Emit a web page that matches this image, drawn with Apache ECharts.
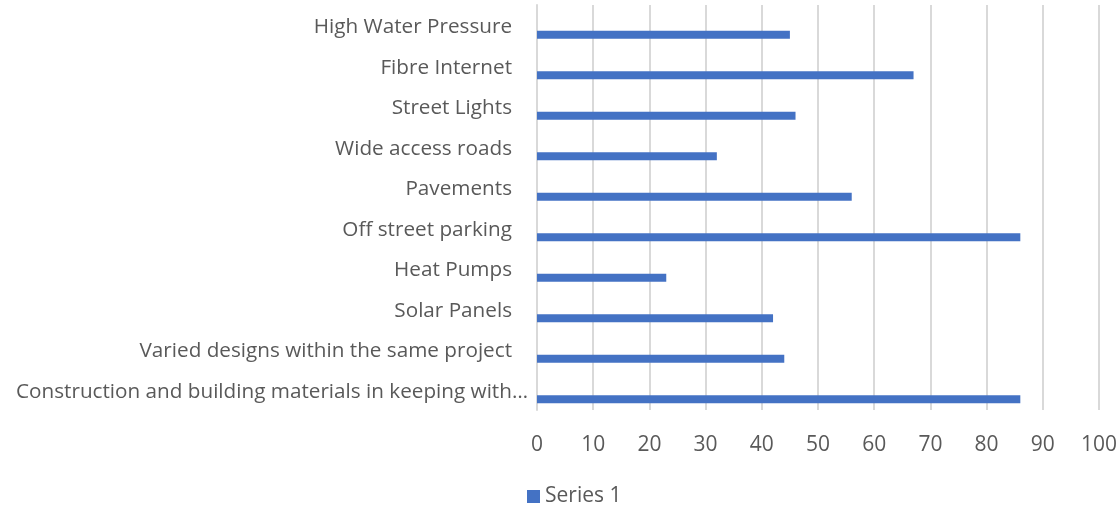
<!DOCTYPE html>
<html><head><meta charset="utf-8">
<script src="https://cdn.jsdelivr.net/npm/echarts@6/dist/echarts.min.js"></script>
<style>html,body{margin:0;padding:0;background:#fff}#c{width:1120px;height:507px}</style>
</head><body><div id="c"></div>
<script>
// categories listed bottom-to-top (Excel order)
const categories = [
  "Construction and building materials in keeping with…",
  "Varied designs within the same project",
  "Solar Panels",
  "Heat Pumps",
  "Off street parking",
  "Pavements",
  "Wide access roads",
  "Street Lights",
  "Fibre Internet",
  "High Water Pressure"
];
const series1 = [86, 44, 42, 23, 86, 56, 32, 46, 67, 45];
const seriesName = "Series 1";
const xTicks = { min: 0, max: 100, interval: 10 };

const chart = echarts.init(document.getElementById('c'), null, {renderer: 'canvas'});
const font = "'Open Sans', sans-serif";
chart.setOption({
  animation: false,
  grid: { left: 537, right: 21, top: 5, bottom: 97, containLabel: false, outerBoundsMode: 'none' },
  legend: {
    data: [seriesName], top: 481, left: 522,
    itemWidth: 13, itemHeight: 13, itemGap: 5,
    icon: 'rect',
    textStyle: { color: '#595959', fontSize: 21, fontFamily: font }
  },
  xAxis: {
    type: 'value', min: xTicks.min, max: xTicks.max, interval: xTicks.interval,
    axisLine: { show: false }, axisTick: { show: false },
    splitLine: { show: true, lineStyle: { color: '#d9d9d9', width: 2 } },
    axisLabel: { color: '#595959', fontSize: 21, fontFamily: font, margin: 25 }
  },
  yAxis: {
    type: 'category', data: categories,
    axisLine: { show: true, lineStyle: { color: '#d9d9d9', width: 2 } },
    axisTick: { show: false },
    axisLabel: {
      color: '#595959', fontSize: 20.7, fontFamily: font, margin: 25,
      padding: [4, 0, 0, 0],
      formatter: function (v) { return v.endsWith('…') ? '{e|' + v + '}' : v; },
      rich: { e: { color: '#595959', fontSize: 20.7, fontFamily: font, padding: [0, -16, 0, 0] } }
    }
  },
  series: [
    { name: '_hidden', type: 'bar', data: [], barWidth: 8, barGap: '137%' },
    { name: seriesName, type: 'bar', data: series1, barWidth: 8, barGap: '137%',
      itemStyle: { color: '#4472C4' } }
  ]
});
</script></body></html>
